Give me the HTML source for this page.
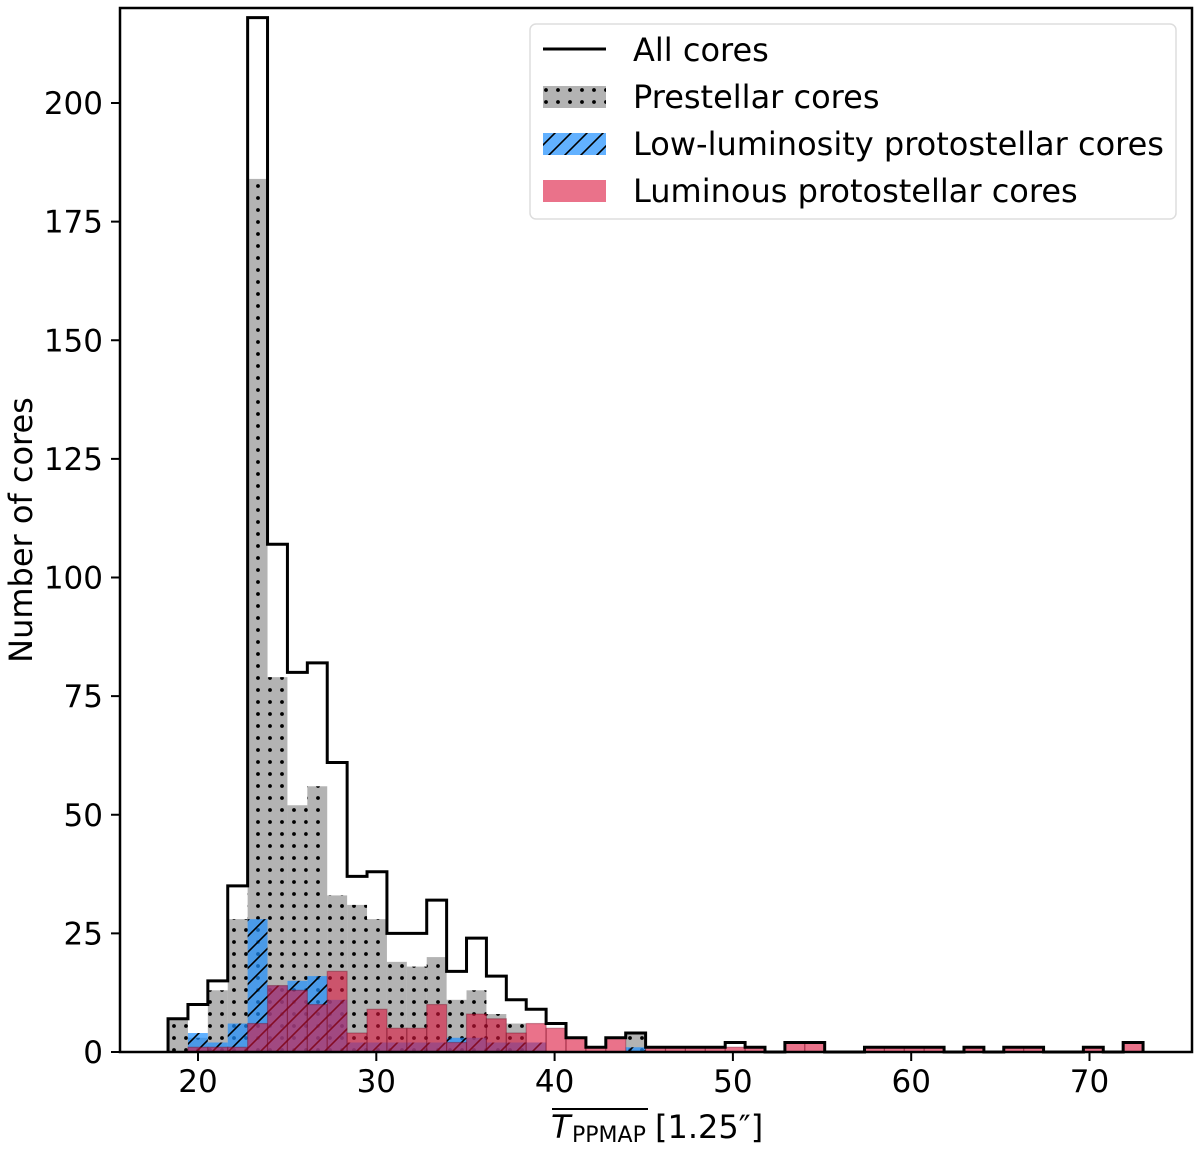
<!DOCTYPE html>
<html><head><meta charset="utf-8"><style>
html,body{margin:0;padding:0;background:#fff;}
svg text{font-family:"DejaVu Sans","Liberation Sans",sans-serif;fill:#000;}
</style></head><body>
<svg id="chart" width="1200" height="1148" viewBox="0 0 1200 1148" xmlns="http://www.w3.org/2000/svg">
<defs>
<pattern id="dots" width="12" height="12" patternUnits="userSpaceOnUse"><circle cx="6" cy="6" r="1.9" fill="#000"/></pattern>
<pattern id="hatchBlue" width="16" height="16" patternUnits="userSpaceOnUse"><path d="M-2,18 L18,-2 M-10,10 L10,-10 M6,26 L26,6" stroke="#000" stroke-width="1.6"/></pattern>
</defs>
<g id="bars"></g>
<g id="axes"></g>
<g>
<rect x="530" y="24" width="646" height="195" rx="6" fill="#fff" fill-opacity="0.85" stroke="#ddd" stroke-width="1.5"/>
<line x1="543" y1="49" x2="606" y2="49" stroke="#000" stroke-width="3"/>
<text x="633" y="61" font-size="32">All cores</text>
<rect x="543" y="86" width="63" height="22" fill="#b3b3b3"/>
<rect x="543" y="86" width="63" height="22" fill="url(#dots)"/>
<text x="633" y="108" font-size="32">Prestellar cores</text>
<rect x="543" y="133" width="63" height="22" fill="#62b1ff"/>
<rect x="543" y="133" width="63" height="22" fill="url(#hatchBlue)"/>
<text x="633" y="155" font-size="32">Low-luminosity protostellar cores</text>
<rect x="543" y="180" width="63" height="22" fill="#ea728a"/>
<text x="633" y="202" font-size="32">Luminous protostellar cores</text>
</g>
<g>
<line x1="552" y1="1109" x2="648" y2="1109" stroke="#000" stroke-width="2"/>
<text x="551" y="1138" font-size="32" font-style="italic">T</text>
<text x="572" y="1142" font-size="22">PPMAP</text>
<text x="655" y="1138" font-size="32">[1.25″]</text>
</g>
<text transform="translate(32,530) rotate(-90)" text-anchor="middle" font-size="32">Number of cores</text>
</svg>
<script>
const binStart = 18.32;
const binWidth = 1.116;
const allCores = [7,10,15,35,218,107,80,82,61,37,38,25,25,32,17,24,16,11,9,6,3,1,3,4,1,1,1,1,2,1,0,2,2,0,0,1,1,1,1,0,1,0,1,1,0,0,1,0,2];
const prestellar = [7,3,13,28,184,79,52,56,33,31,28,19,18,20,11,13,8,6,0,0,0,0,0,4,0,0,0,0,0,0,0,0,0,0,0,0,0,0,0,0,0,0,0,0,0,0,0,0,0];
const lowLum = [0,4,2,6,28,14,15,16,11,2,2,2,2,2,3,3,2,2,2,0,0,0,0,1,0,0,0,0,0,0,0,0,0,0,0,0,0,0,0,0,0,0,0,0,0,0,0,0,0];
const luminous = [0,1,1,1,6,14,13,10,17,4,9,5,5,10,2,8,7,4,6,5,3,1,3,0,1,1,1,1,1,1,0,2,2,0,0,1,1,1,1,0,1,0,1,1,0,0,1,0,2];
const xTicks = [20,30,40,50,60,70];
const yTicks = [0,25,50,75,100,125,150,175,200];

const X = v => 198 + (v - 20) * 17.83;
const Y = v => 1052 - v * 4.745;
const NS = 'http://www.w3.org/2000/svg';
const bars = document.getElementById('bars');
const axes = document.getElementById('axes');
function mk(tag, attrs, parent){const e=document.createElementNS(NS,tag);for(const k in attrs)e.setAttribute(k,attrs[k]);parent.appendChild(e);return e;}

function drawSeries(arr, fill, pattern, name, stroke){
  arr.forEach((v,i)=>{
    if(v<=0) return;
    const x0=X(binStart+i*binWidth), x1=X(binStart+(i+1)*binWidth);
    const r=mk('rect',{x:x0,y:Y(v),width:x1-x0,height:Y(0)-Y(v),fill:fill},bars);
    
    
    if(stroke){r.setAttribute('stroke',stroke);r.setAttribute('stroke-width','1.2');}
    if(pattern){mk('rect',{x:x0,y:Y(v),width:x1-x0,height:Y(0)-Y(v),fill:'url(#'+pattern+')'},bars);}
  });
}
drawSeries(prestellar,'rgba(128,128,128,0.6)','dots','prestellar');
drawSeries(lowLum,'rgba(30,144,255,0.7)','hatchBlue','low-luminosity');
drawSeries(luminous,'rgba(220,20,60,0.6)',null,'luminous','rgba(110,0,25,0.35)');

let d='M'+X(binStart)+','+Y(0);
allCores.forEach((v,i)=>{
  const x0=X(binStart+i*binWidth), x1=X(binStart+(i+1)*binWidth);
  d+=' L'+x0+','+Y(v)+' L'+x1+','+Y(v);
});
d+=' L'+X(binStart+allCores.length*binWidth)+','+Y(0);
const step=mk('path',{d:d,fill:'none',stroke:'#000','stroke-width':3,'stroke-linejoin':'miter'},bars);



const frame=mk('rect',{x:120,y:8,width:1072,height:1044,fill:'none',stroke:'#000','stroke-width':2.5},axes);



xTicks.forEach(t=>{
  mk('line',{x1:X(t),y1:1052,x2:X(t),y2:1061,stroke:'#000','stroke-width':2},axes);
  const tx=mk('text',{x:X(t),y:1092,'text-anchor':'middle','font-size':31},axes);
  tx.textContent=t;
  
  
});
yTicks.forEach(t=>{
  mk('line',{x1:111,y1:Y(t),x2:120,y2:Y(t),stroke:'#000','stroke-width':2},axes);
  const ty=mk('text',{x:103,y:Y(t)+11,'text-anchor':'end','font-size':31},axes);
  ty.textContent=t;
  
  
});
</script>
</body></html>
